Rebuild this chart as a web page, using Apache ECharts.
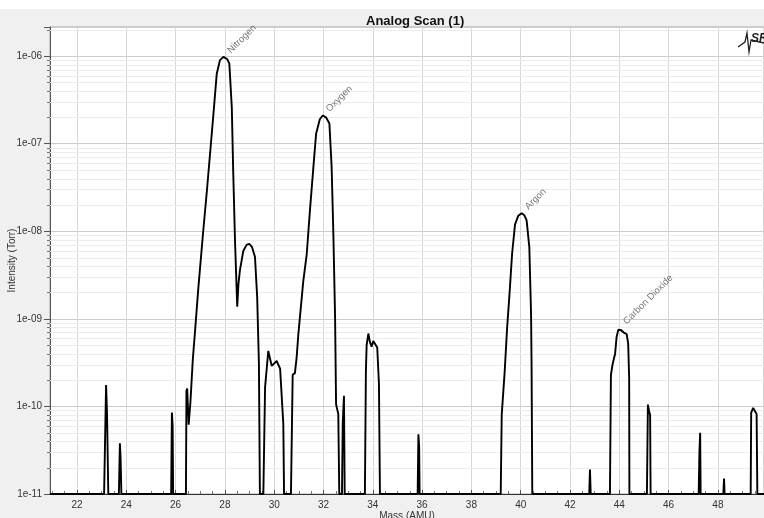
<!DOCTYPE html>
<html><head><meta charset="utf-8">
<script src="https://cdn.jsdelivr.net/npm/echarts@6/dist/echarts.min.js"></script>
<style>html,body{margin:0;padding:0;background:#fff}#c{width:764px;height:518px}</style>
</head><body><div id="c"></div>
<script>
// ---- data ----
const mass = [20.9, 23.1, 23.13, 23.18, 23.22, 23.27,
  23.7, 23.74, 23.77, 23.8,
  25.82, 25.85, 25.88, 25.9,
  26.42, 26.44, 26.47, 26.53, 26.6, 26.7, 26.79, 26.92, 27.12, 27.27, 27.53, 27.67, 27.8, 27.94, 28.02, 28.1, 28.18, 28.28, 28.34, 28.41, 28.5,
  28.55, 28.61, 28.75, 28.88, 28.99, 29.1, 29.22, 29.31, 29.38, 29.42,
  29.56, 29.63, 29.76, 29.9, 30.1, 30.24, 30.37, 30.4,
  30.68, 30.75, 30.8, 30.84, 30.91, 30.98, 31.18, 31.32, 31.45, 31.59, 31.7, 31.85, 31.97, 32.1, 32.24, 32.33, 32.4, 32.47, 32.51, 32.6, 32.64,
  32.75, 32.78, 32.83, 32.86,
  33.68, 33.72, 33.75, 33.82, 33.88, 33.95, 34.02, 34.09, 34.18, 34.25, 34.29,
  35.82, 35.85, 35.88, 35.9,
  39.19, 39.23, 39.35, 39.45, 39.55, 39.65, 39.77, 39.9, 40.04, 40.15, 40.24, 40.35, 40.42, 40.44, 40.47,
  42.78, 42.81, 42.84,
  43.62, 43.66, 43.73, 43.83, 43.89, 43.96, 44.03, 44.08, 44.12, 44.2, 44.3, 44.36, 44.4, 44.41,
  45.12, 45.16, 45.19, 45.22, 45.25, 45.27,
  47.22, 47.25, 47.28, 47.3,
  48.22, 48.25, 48.27,
  49.33, 49.35, 49.43, 49.5, 49.57, 49.6, 49.9];
const intensity = [1e-11, 1e-11, 3e-11, 1.75e-10, 8e-11, 1e-11,
  1e-11, 3.8e-11, 2.5e-11, 1e-11,
  1e-11, 8.5e-11, 6e-11, 1e-11,
  1e-11, 1.5e-10, 1.6e-10, 6.2e-11, 1.1e-10, 3.5e-10, 7.3e-10, 2.2e-9, 1e-8, 2.9e-8, 2.1e-7, 6.3e-7, 9e-7, 9.8e-7, 9.7e-7, 9.2e-7, 8.2e-7, 2.6e-7, 4.5e-8, 7.8e-9, 1.38e-9,
  2.5e-9, 3.6e-9, 6e-9, 7e-9, 7.2e-9, 6.6e-9, 5.1e-9, 1.76e-9, 3.1e-10, 1e-11,
  1e-11, 1.65e-10, 4.3e-10, 2.9e-10, 3.3e-10, 2.7e-10, 6.3e-11, 1e-11,
  1e-11, 2.3e-10, 2.4e-10, 2.4e-10, 3.6e-10, 6.7e-10, 2.7e-9, 5.5e-9, 1.73e-8, 5.4e-8, 1.3e-7, 1.9e-7, 2.1e-7, 2e-7, 1.7e-7, 5.4e-8, 9.3e-9, 1.04e-9, 1.06e-10, 8.2e-11, 1e-11,
  1e-11, 6.3e-11, 1.32e-10, 1e-11,
  1e-11, 2.5e-10, 5e-10, 6.8e-10, 5.5e-10, 4.8e-10, 5.6e-10, 5.9e-10, 4.7e-10, 1.8e-10, 1e-11,
  1e-11, 4.8e-11, 3.5e-11, 1e-11,
  1e-11, 8e-11, 2.5e-10, 8e-10, 2e-9, 5.5e-9, 1.2e-8, 1.5e-8, 1.61e-8, 1.52e-8, 1.33e-8, 6.6e-9, 1.14e-9, 3.3e-10, 1e-11,
  1e-11, 1.9e-11, 1e-11,
  1e-11, 2.3e-10, 3.05e-10, 4e-10, 6.2e-10, 7.5e-10, 7.9e-10, 7.4e-10, 7.3e-10, 6.9e-10, 6.7e-10, 5.2e-10, 2.1e-10, 1e-11,
  1e-11, 1.05e-10, 1.1e-10, 8.5e-11, 8e-11, 1e-11,
  1e-11, 3e-11, 5e-11, 1e-11,
  1e-11, 1.5e-11, 1e-11,
  1e-11, 8.5e-11, 9.6e-11, 9.4e-11, 8.2e-11, 1e-11, 1e-11];
const peakNames = ['Nitrogen', 'Oxygen', 'Argon', 'Carbon Dioxide'];
const peakMass = [27.97, 31.97, 40.04, 44.03];
const peakIntensity = [9.8e-7, 2.1e-7, 1.61e-8, 7.9e-10];
const xMin = 20.905, xMax = 49.87;
const yMin = 1e-11, yMax = 2.15e-6;
const yDecades = [1e-11, 1e-10, 1e-9, 1e-8, 1e-7, 1e-6];
const minorFactors = [2, 3, 4, 5, 6, 7, 8, 9];

// ---- build ----
const lineData = mass.map((m, i) => [m, intensity[i]]);
const minorLevels = [];
yDecades.forEach(d => minorFactors.forEach(f => { const v = d * f; if (v < yMax) minorLevels.push(v); }));
const FONT = 'Liberation Sans';

const chart = echarts.init(document.getElementById('c'), null, {renderer: 'canvas'});
chart.setOption({
  backgroundColor: '#f0f0f0',
  animation: false,
  title: {
    text: 'Analog Scan (1)', left: 361, top: 10,
    textStyle: {fontFamily: FONT, fontSize: 13, fontWeight: 'bold', color: '#111'}
  },
  graphic: [
    {type: 'rect', left: 0, top: 0, shape: {width: 764, height: 9}, style: {fill: '#ffffff'}, silent: true},
    {type: 'polyline', shape: {points: [[738, 47], [745, 42], [747, 33], [749, 52], [751, 40], [764, 43]]},
     style: {stroke: '#222', lineWidth: 1.3, fill: null}, z: 100, silent: true},
    {type: 'text', left: 751, top: 33, z: 100, silent: true,
     style: {text: 'SR', fontFamily: FONT, fontSize: 12, fontWeight: 'bold', fontStyle: 'italic', fill: '#222'}}
  ],
  grid: {left: 50, top: 27, right: 0, bottom: 24, show: true, backgroundColor: '#ffffff', borderColor: '#a8a8a8', borderWidth: 1,
    containLabel: false, outerBoundsMode: 'none'},
  xAxis: {
    type: 'value', min: xMin, max: xMax, splitNumber: 14, minInterval: 2, maxInterval: 2,
    name: 'Mass (AMU)', nameLocation: 'middle', nameGap: 17, nameMoveOverlap: false,
    nameTextStyle: {fontFamily: FONT, fontSize: 10, color: '#333'},
    axisLine: {show: true, lineStyle: {color: '#333', width: 1}},
    axisTick: {show: true, inside: true, length: 4, lineStyle: {color: '#555'}},
    minorTick: {show: true, splitNumber: 4, length: 3, lineStyle: {color: '#777'}},
    axisLabel: {fontFamily: FONT, fontSize: 10, color: '#333', margin: 6,
      formatter: v => (Math.abs(v - Math.round(v)) < 1e-6 ? String(Math.round(v)) : '')},
    splitLine: {show: true, lineStyle: {color: '#d6d6d6', width: 1}}
  },
  yAxis: {
    type: 'log', logBase: 10, min: yMin, max: yMax,
    name: 'Intensity (Torr)', nameLocation: 'middle', nameGap: 33, nameMoveOverlap: false,
    nameTextStyle: {fontFamily: FONT, fontSize: 10, color: '#333'},
    axisLine: {show: true, lineStyle: {color: '#555', width: 1}},
    axisTick: {show: true, length: 6, lineStyle: {color: '#555'}},
    axisLabel: {fontFamily: FONT, fontSize: 10, color: '#333', margin: 8,
      formatter: v => {
        const e = Math.round(Math.log10(v));
        if (Math.abs(v / Math.pow(10, e) - 1) > 1e-6) return '';
        return '1e-' + String(-e).padStart(2, '0');
      }},
    splitLine: {show: true, lineStyle: {color: '#cccccc', width: 1}}
  },
  series: [
    {
      type: 'custom', silent: true, z: 1, clip: false,
      data: minorLevels.map(v => [xMin, v]),
      renderItem: (params, api) => {
        const cs = params.coordSys;
        const y = Math.round(api.coord([api.value(0), api.value(1)])[1]) + 0.5;
        return {type: 'group', children: [
          {type: 'line', shape: {x1: cs.x, y1: y, x2: cs.x + cs.width, y2: y}, style: {stroke: '#ececec', lineWidth: 1}},
          {type: 'line', shape: {x1: cs.x - 3, y1: y, x2: cs.x, y2: y}, style: {stroke: '#777', lineWidth: 1}}
        ]};
      }
    },
    {
      type: 'line', data: lineData, showSymbol: false, symbol: 'none', z: 5,
      lineStyle: {color: '#000', width: 1.9}, clip: true
    },
    {
      type: 'scatter', z: 6, symbolSize: 1, itemStyle: {color: 'rgba(0,0,0,0)'}, silent: true,
      data: peakMass.map((m, i) => ({value: [m, peakIntensity[i]], name: peakNames[i]})),
      label: {show: true, formatter: p => p.name, rotate: 45, position: [9, -1], align: 'left', verticalAlign: 'bottom',
        fontFamily: FONT, fontSize: 9.5, color: '#555'}
    }
  ]
});
</script></body></html>
